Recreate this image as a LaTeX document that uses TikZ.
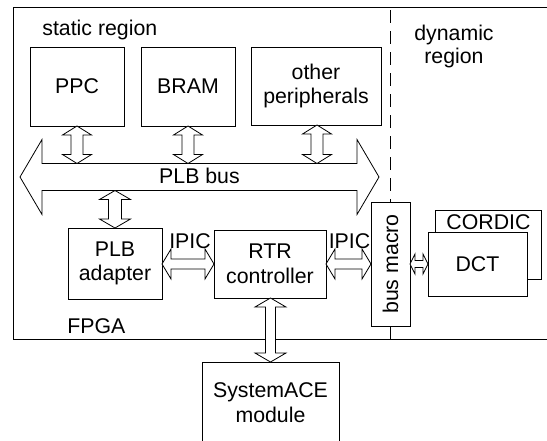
\documentclass[tikz,border=0pt]{standalone}
\usepackage{fontspec}
\setmainfont{Liberation Sans}
\newcommand\vdarr[6]{% x, ytop, ybot, shaft half, head half, head length
  \draw[fat] (#1,#2) -- ({#1+#5},{#2+#6}) -- ({#1+#4},{#2+#6}) -- ({#1+#4},{#3-#6}) -- ({#1+#5},{#3-#6}) -- (#1,#3) -- ({#1-#5},{#3-#6}) -- ({#1-#4},{#3-#6}) -- ({#1-#4},{#2+#6}) -- ({#1-#5},{#2+#6}) -- cycle;}
\newcommand\hdarr[6]{% y, xleft, xright, shaft half, head half, head length
  \draw[fat] (#2,#1) -- ({#2+#6},{#1-#5}) -- ({#2+#6},{#1-#4}) -- ({#3-#6},{#1-#4}) -- ({#3-#6},{#1-#5}) -- (#3,#1) -- ({#3-#6},{#1+#5}) -- ({#3-#6},{#1+#4}) -- ({#2+#6},{#1+#4}) -- ({#2+#6},{#1+#5}) -- cycle;}
\begin{document}
\begin{tikzpicture}[x=1pt,y=-1pt,line width=0.8pt,
  box/.style={draw, fill=white, inner sep=0pt, outer sep=0pt, align=center},
  fat/.style={draw, fill=white, line join=miter},
  lbl/.style={inner sep=0pt, align=center},
  every node/.style={font=\fontsize{21.3}{24.5}\selectfont}]
\useasboundingbox (0,0) rectangle (547,440);
\clip (0,0) rectangle (547,440);
% FPGA frame (open to the right)
\draw (550,7) -- (13,7) -- (13,339) -- (550,339);
% boxes
\node[box, minimum width=94pt, minimum height=79pt] (ppc) at (77,86.5) {PPC};
\node[box, minimum width=94pt, minimum height=79pt] (bram) at (188,86.5) {BRAM};
\node[box, minimum width=130pt, minimum height=78pt] (oth) at (316,86) {other\\peripherals};
\node[box, minimum width=94pt, minimum height=71pt] (plba) at (115,263.5) {PLB\\adapter};
\node[box, minimum width=112pt, minimum height=68pt] (rtr) at (270,264) {RTR\\controller};
\node[box, minimum width=39pt, minimum height=124pt] (bm) at (390.5,264) {};
\node[lbl, rotate=90] (bmt) at (bm.center) {bus macro};
\node[box, minimum width=106pt, minimum height=69pt] (cordic) at (488,244.5) {};
\node[lbl] (cordict) at (488.5,222) {CORDIC};
\node[box, minimum width=99pt, minimum height=64pt] (dct) at (477.5,264) {DCT};
\draw (202,470) -- (202,362) -- (339,362) -- (339,470);
\node[lbl] (sace) at (270.5,402.5) {SystemACE\\module};
% region separation
\draw[dash pattern=on 13pt off 8pt, dash phase=-3pt] (390.5,7) -- (bm.north);
\draw (bm.south) -- (390.5,339);
% PLB bus
\hdarr{177}{20}{379}{13.5}{37.5}{22}
\node[lbl] (plbbus) at (199.5,176) {PLB bus};
% small vertical arrows
\vdarr{77}{126}{163.5}{6}{14.5}{9}
\vdarr{188}{126}{163.5}{6}{14.5}{9}
\vdarr{317}{125}{163.5}{6}{14.5}{9}
\vdarr{115}{190.5}{228}{6.5}{15.5}{9}
\vdarr{270.5}{298}{362}{5}{15.5}{9}
% horizontal IPIC arrows
\hdarr{264}{162}{214}{5}{15}{9}
\hdarr{264}{326}{371}{5}{15}{9}
\hdarr{264}{410}{428}{3.5}{10}{5}
\node[lbl] (ipic1) at (190,241) {IPIC};
\node[lbl] (ipic2) at (349.5,241) {IPIC};
% region labels
\node[lbl, anchor=base west] (stat) at (42,35) {static region};
\node[lbl, font=\fontsize{21.3}{23}\selectfont] (dyn) at (454,46) {dynamic\\region};
\node[lbl, anchor=base west] (fpga) at (67,333) {FPGA};
\end{tikzpicture}
\end{document}
